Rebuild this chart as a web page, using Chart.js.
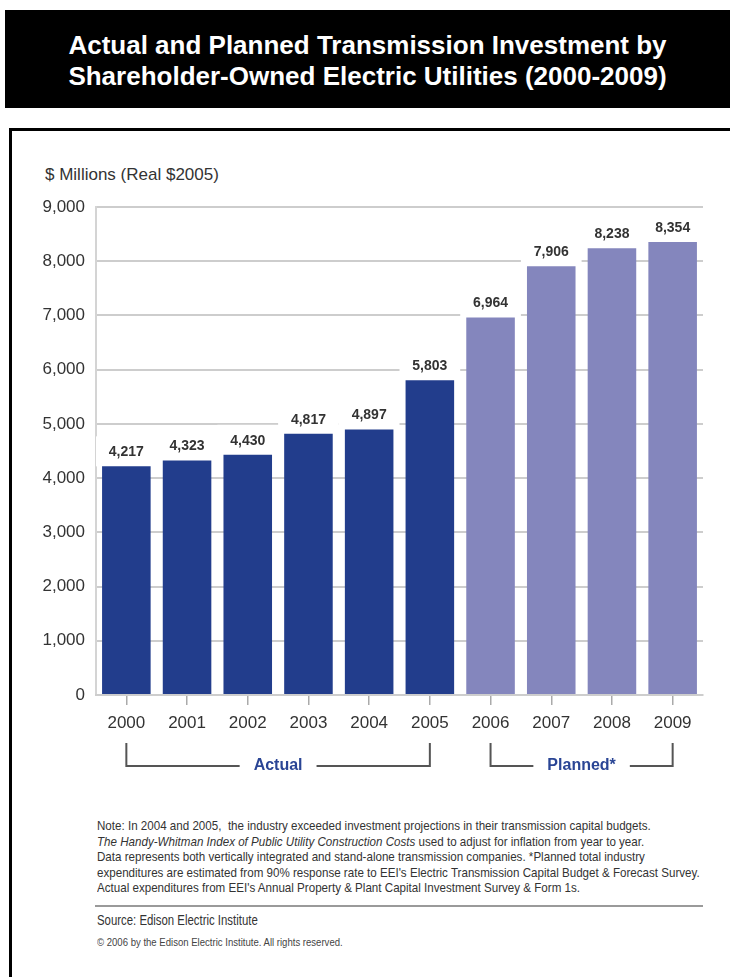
<!DOCTYPE html>
<html>
<head>
<meta charset="utf-8">
<script src="https://cdn.jsdelivr.net/npm/chart.js@4.4.0/dist/chart.umd.min.js"></script>
<style>
  html, body { margin: 0; padding: 0; background: #fff; }
  body { width: 730px; height: 977px; position: relative; overflow: hidden; font-family: 'Liberation Sans', Arial, sans-serif; }
  #titleBox { position: absolute; left: 5px; top: 10px; width: 725px; height: 98px; background: #000; color: #fff;
    font-weight: bold; font-size: 26px; line-height: 31px; text-align: center; box-sizing: border-box; padding-top: 20px; }
  #frame { position: absolute; left: 9px; top: 128px; width: 760px; height: 900px; border: 3px solid #000; }
  #unit { position: absolute; left: 45px; top: 165px; font-size: 17px; color: #333; }
  #chartWrap { position: absolute; left: 0; top: 150px; width: 730px; height: 640px; }
  #notes { position: absolute; left: 97px; top: 818px; font-size: 13px; line-height: 15.5px; color: #333; white-space: nowrap; transform-origin: 0 0; }
  #rule { position: absolute; left: 95px; top: 905px; width: 608px; height: 2px; background: #9a9a9a; }
  #source { position: absolute; left: 97px; top: 912px; font-size: 14px; color: #333; white-space: nowrap; transform-origin: 0 0; }
  #copy { position: absolute; left: 97px; top: 936px; font-size: 11px; color: #444; white-space: nowrap; transform-origin: 0 0; }
</style>
</head>
<body>
<div id="titleBox">Actual and Planned Transmission Investment by<br>Shareholder-Owned Electric Utilities (2000-2009)</div>
<div id="frame"></div>
<div id="unit">$ Millions (Real $2005)</div>
<div id="chartWrap"><canvas id="barInvestment"></canvas></div>
<div id="notes">Note: In 2004 and 2005,&nbsp; the industry exceeded investment projections in their transmission capital budgets.<br><i>The Handy-Whitman Index of Public Utility Construction Costs</i> used to adjust for inflation from year to year.<br>Data represents both vertically integrated and stand-alone transmission companies. *Planned total industry<br>expenditures are estimated from 90% response rate to EEI's Electric Transmission Capital Budget &amp; Forecast Survey.<br>Actual expenditures from EEI's Annual Property &amp; Plant Capital Investment Survey &amp; Form 1s.</div>
<div id="rule"></div>
<div id="source">Source: Edison Electric Institute</div>
<div id="copy">© 2006 by the Edison Electric Institute. All rights reserved.</div>

<script>
// dados
const years = ['2000', '2001', '2002', '2003', '2004', '2005', '2006', '2007', '2008', '2009'];
const investment = [4217, 4323, 4430, 4817, 4897, 5803, 6964, 7906, 8238, 8354];
const phases = ['Actual', 'Actual', 'Actual', 'Actual', 'Actual', 'Actual', 'Planned*', 'Planned*', 'Planned*', 'Planned*'];
const yTicks = [0, 1000, 2000, 3000, 4000, 5000, 6000, 7000, 8000, 9000];

const FONT = "'Liberation Sans', Arial, sans-serif";
const phaseColors = { 'Actual': '#223d8c', 'Planned*': '#8486bd' };

// a fonte original é condensada: estreita o texto até a largura medida no original
function fitWidth(id, target) {
  const el = document.getElementById(id);
  const w = el.scrollWidth;
  if (w > 0) el.style.transform = `scaleX(${target / w})`;
}

// caixas brancas atrás dos rótulos (cortam as linhas de grade) + rótulos
const valueLabels = {
  id: 'valueLabels',
  beforeDatasetsDraw(chart) {
    const ctx = chart.ctx;
    const meta = chart.getDatasetMeta(0);
    const step = chart.scales.x.width / years.length;
    ctx.save();
    ctx.fillStyle = '#fff';
    meta.data.forEach(bar => {
      ctx.fillRect(bar.x - step / 2, bar.y - 30, step, 30);
    });
    ctx.restore();
  },
  afterDatasetsDraw(chart) {
    const ctx = chart.ctx;
    const meta = chart.getDatasetMeta(0);
    ctx.save();
    ctx.font = "bold 14px " + FONT;
    ctx.fillStyle = '#333';
    ctx.textAlign = 'center';
    ctx.textBaseline = 'middle';
    meta.data.forEach((bar, i) => {
      ctx.fillText(investment[i].toLocaleString('en-US'), bar.x, bar.y - 14);
    });
    ctx.restore();
  }
};

// colchetes "Actual" / "Planned*" abaixo do eixo
const phaseBrackets = {
  id: 'phaseBrackets',
  afterDraw(chart) {
    const ctx = chart.ctx;
    const x = chart.scales.x;
    const base = chart.chartArea.bottom;
    const yTop = base + 48, yBot = base + 71;
    const groups = [...new Set(phases)];
    ctx.save();
    ctx.font = "bold 16px " + FONT;
    ctx.textAlign = 'center';
    ctx.textBaseline = 'middle';
    groups.forEach(g => {
      const first = phases.indexOf(g), last = phases.lastIndexOf(g);
      const x0 = x.getPixelForValue(first), x1 = x.getPixelForValue(last);
      const mid = (x0 + x1) / 2;
      const tw = ctx.measureText(g).width / 2 + 14;
      ctx.strokeStyle = '#555';
      ctx.lineWidth = 2;
      ctx.beginPath();
      ctx.moveTo(x0, yTop); ctx.lineTo(x0, yBot); ctx.lineTo(mid - tw, yBot);
      ctx.moveTo(mid + tw, yBot); ctx.lineTo(x1, yBot); ctx.lineTo(x1, yTop);
      ctx.stroke();
      ctx.fillStyle = '#2a4595';
      ctx.fillText(g, mid, yBot);
    });
    ctx.restore();
  }
};

function initInvestmentChart() {
  const el = document.getElementById('barInvestment');
  new Chart(el.getContext('2d'), {
    type: 'bar',
    data: {
      labels: years,
      datasets: [{
        data: investment,
        backgroundColor: phases.map(p => phaseColors[p]),
        barPercentage: 0.8,
        categoryPercentage: 1.0
      }]
    },
    options: {
      responsive: true,
      maintainAspectRatio: false,
      animation: false,
      layout: { padding: { top: 57, right: 27, left: 0, bottom: 0 } },
      plugins: { legend: { display: false }, tooltip: { enabled: false } },
      scales: {
        y: {
          min: 0,
          max: 9000,
          afterBuildTicks: s => { s.ticks = yTicks.map(v => ({ value: v })); },
          afterFit: s => { s.width = 96; },
          ticks: {
            color: '#333',
            padding: 11,
            font: { family: FONT, size: 17 },
            callback: v => v.toLocaleString('en-US')
          },
          grid: { color: '#cdcdcd', lineWidth: 2, drawTicks: false },
          border: { color: '#d4d4d4', width: 2 }
        },
        x: {
          afterFit: s => { s.height = 95; },
          ticks: { color: '#333', padding: 8, font: { family: FONT, size: 17 } },
          grid: { drawOnChartArea: false, offset: false, tickLength: 10, color: '#aaa', lineWidth: 1.5 },
          border: { color: '#cdcdcd', width: 2 }
        }
      }
    },
    plugins: [valueLabels, phaseBrackets]
  });

  fitWidth('notes', 603);
  fitWidth('source', 161);
  fitWidth('copy', 246);
}

document.addEventListener('DOMContentLoaded', initInvestmentChart);
</script>
</body>
</html>
